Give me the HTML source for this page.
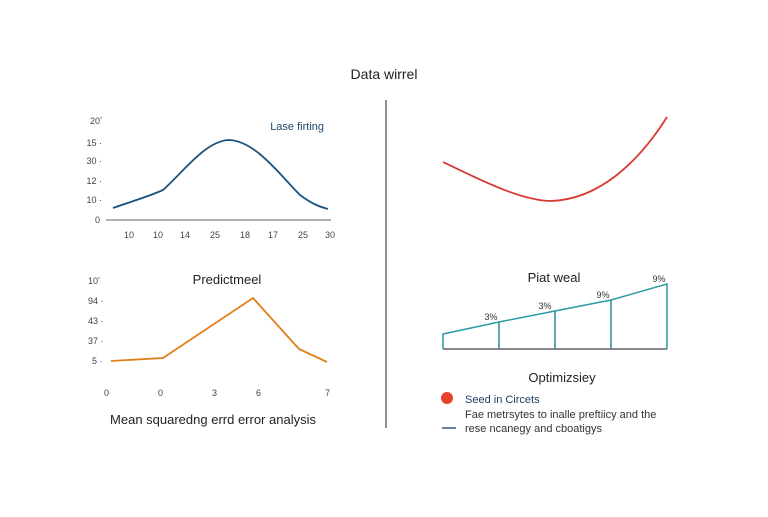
<!DOCTYPE html>
<html><head><meta charset="utf-8"><style>
body{margin:0;background:#fff;}
svg text{font-family:"Liberation Sans",sans-serif;}
</style></head><body>
<svg width="768" height="512" viewBox="0 0 768 512" xmlns="http://www.w3.org/2000/svg">
<rect width="768" height="512" fill="#fff"/>
<text x="384" y="79" font-size="14" fill="#222" text-anchor="middle">Data wirrel</text>
<line x1="386" y1="100" x2="386" y2="428" stroke="#444" stroke-width="1.2"/>
<!-- top-left -->
<g font-size="9" fill="#444" text-anchor="end">
<text x="102" y="124">20ʼ</text><text x="102" y="146">15 ·</text><text x="102" y="164">30 ·</text><text x="102" y="184">12 ·</text><text x="102" y="203">10 ·</text><text x="100" y="223">0</text>
</g>
<line x1="106" y1="220" x2="331" y2="220" stroke="#666" stroke-width="1"/>
<g font-size="9" fill="#444" text-anchor="middle">
<text x="129" y="238">10</text><text x="158" y="238">10</text><text x="185" y="238">14</text><text x="215" y="238">25</text><text x="245" y="238">18</text><text x="273" y="238">17</text><text x="303" y="238">25</text><text x="330" y="238">30</text>
</g>
<text x="324" y="130" font-size="11" fill="#1d4a72" text-anchor="end">Lase firting</text>
<path d="M113,208 C130,202 150,196 163,190 C185,170 205,142 228,140 C255,140 280,175 300,195 C312,204 320,207 328,209" fill="none" stroke="#1d5580" stroke-width="1.8"/>
<!-- bottom-left -->
<text x="227" y="284" font-size="13" fill="#222" text-anchor="middle">Predictmeel</text>
<g font-size="9" fill="#444">
<text x="88" y="284">10ʼ</text><text x="88" y="304">94 ·</text><text x="88" y="324">43 ·</text><text x="88" y="344">37 ·</text><text x="92" y="364">5 ·</text>
<text x="104" y="396">0</text><text x="158" y="396">0</text><text x="212" y="396">3</text><text x="256" y="396">6</text><text x="325" y="396">7</text>
</g>
<polyline points="111,361 163,358 253,298 299,349 327,362" fill="none" stroke="#e07f1a" stroke-width="1.8"/>
<text x="213" y="424" font-size="13" fill="#222" text-anchor="middle">Mean squaredng errd error analysis</text>
<!-- top-right -->
<path d="M443,162 C480,180 520,200 550,201 C600,200 640,160 667,117" fill="none" stroke="#d83a33" stroke-width="1.8"/>
<!-- bottom-right -->
<text x="554" y="282" font-size="13" fill="#222" text-anchor="middle">Piat weal</text>
<line x1="443" y1="349" x2="667" y2="349" stroke="#444" stroke-width="1.2"/>
<polyline points="443,349 443,334 499,322 555,311 611,300 667,284 667,349" fill="none" stroke="#2a9aa5" stroke-width="1.5"/>
<g stroke="#2a8a95" stroke-width="1.5"><line x1="499" y1="322" x2="499" y2="349"/><line x1="555" y1="311" x2="555" y2="349"/><line x1="611" y1="300" x2="611" y2="349"/></g>
<g font-size="9" fill="#333" text-anchor="middle">
<text x="491" y="320">3%</text><text x="545" y="309">3%</text><text x="603" y="298">9%</text><text x="659" y="282">9%</text>
</g>
<text x="562" y="382" font-size="13" fill="#222" text-anchor="middle">Optimizsiey</text>
<circle cx="447" cy="398" r="6" fill="#e8412c"/>
<text x="465" y="403" font-size="11" fill="#1d3f66">Seed in Circets</text>
<text x="465" y="418" font-size="11" fill="#333">Fae metrsytes to inalle preftiicy and the</text>
<line x1="442" y1="428" x2="456" y2="428" stroke="#3a5570" stroke-width="1.5"/>
<text x="465" y="432" font-size="11" fill="#333">rese ncanegy and cboatigys</text>
</svg>
</body></html>
